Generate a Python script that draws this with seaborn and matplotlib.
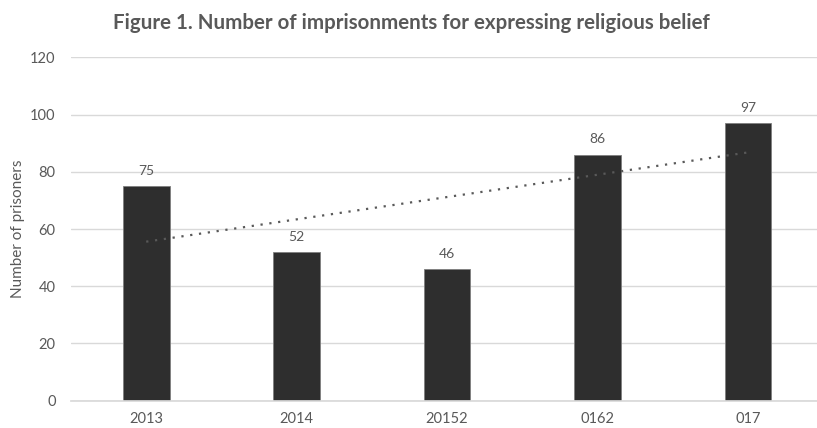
import numpy as np
import pandas as pd
import seaborn as sns
import matplotlib.pyplot as plt

# Veriler
yillar = ["2013", "2014", "20152", "0162", "017"]
mahkum = [75, 52, 46, 86, 97]
y_ticks = [0, 20, 40, 60, 80, 100, 120]

df = pd.DataFrame({"yil": yillar, "mahkum": mahkum, "sira": np.arange(len(yillar))})

sns.set_theme(style="white")
plt.rcParams["font.family"] = ["Lato", "DejaVu Sans"]

gri = "#595959"
fig = plt.figure(figsize=(8.17, 4.28), dpi=100)
ax = fig.add_axes([0.0869, 0.0638, 0.9131, 0.8019])

sns.barplot(data=df, x="yil", y="mahkum", order=yillar, color="#2e2e2e",
            width=0.31, edgecolor="#7f7f7f", linewidth=0.6, saturation=1, ax=ax)

# Dogrusal egilim cizgisi
sns.regplot(data=df, x="sira", y="mahkum", scatter=False, ci=None, ax=ax,
            line_kws={"color": gri, "linestyle": (0, (1, 3)), "linewidth": 1.6})

for i, v in enumerate(mahkum):
    ax.text(i, v + 3.3, str(v), ha="center", va="bottom", fontsize=10, color=gri)

ax.set_ylim(0, 120)
ax.set_xlim(-0.5, 4.46)
ax.set_yticks(y_ticks)
ax.yaxis.grid(True, color="#d9d9d9", linewidth=1)
ax.set_axisbelow(True)
for s in ["top", "right", "left"]:
    ax.spines[s].set_visible(False)
ax.spines["bottom"].set_color("#d9d9d9")
ax.tick_params(axis="both", length=0, labelsize=10.5, colors=gri)
ax.tick_params(axis="x", pad=8.5)
ax.tick_params(axis="y", pad=11)
ax.set_xticks(range(len(yillar)))
ax.set_xticklabels(yillar)
ax.set_xlabel("")
ax.set_ylabel("Number of prisoners", fontsize=11, color=gri, labelpad=4)

fig.text(0.504, 0.946, "Figure 1. Number of imprisonments for expressing religious belief",
         ha="center", va="center", fontsize=14.8, fontweight="bold", color=gri)

fig.savefig("out.png", dpi=100)
